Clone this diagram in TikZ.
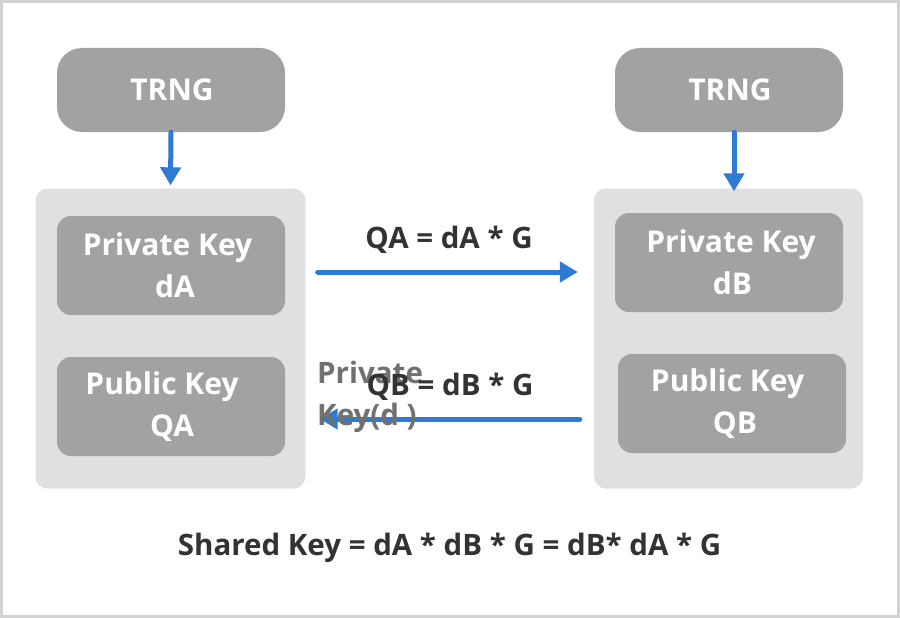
\documentclass[tikz,border=0pt]{standalone}
\usepackage{fontspec}
\setmainfont{Open Sans}
\usetikzlibrary{arrows.meta}
\definecolor{boxgray}{HTML}{A2A2A2}
\definecolor{contgray}{HTML}{E0E0E0}
\definecolor{arrblue}{HTML}{2F7AD3}
\definecolor{txtdark}{HTML}{333333}
\definecolor{txtgray}{HTML}{717171}
\definecolor{framegray}{HTML}{D2D2D2}
\tikzset{
  keybox/.style={fill=boxgray, rounded corners=14pt, minimum width=228pt, minimum height=99pt,
    text=white, align=center, inner sep=0pt, font=\fontsize{30}{42}\selectfont\bfseries},
  trngbox/.style={keybox, rounded corners=25pt, minimum height=84pt},
  container/.style={fill=contgray, rounded corners=12pt, minimum width=270pt, minimum height=300pt, inner sep=0pt},
  arr/.style={draw=arrblue, line width=5pt, line cap=round, -{Triangle[length=18pt,width=20pt]}},
  lbl/.style={text=txtdark, font=\fontsize{29.5}{42}\selectfont\bfseries, inner sep=0pt, anchor=base},
}
\begin{document}
\begin{tikzpicture}[x=1pt, y=-1pt]
\useasboundingbox (0,0) rectangle (900,618);
\draw[framegray, line width=3pt] (1.5,1.5) rectangle (898.5,616.5);
% containers
\node[container] (contA) at (170.5,338.5) {};
\node[container, minimum width=269pt] (contB) at (728.5,338.5) {};
% TRNG
\node[trngbox] (trngA) at (171,90) {\hspace*{2pt}TRNG};
\node[trngbox] (trngB) at (729,90) {\hspace*{2pt}TRNG};
% keys
\node[keybox] (privA) at (171,265.5) {Private Key\hspace*{7pt}\\\hspace*{8pt}dA};
\node[keybox] (pubA) at (171,406.5) {Public Key\hspace*{18pt}\\\hspace*{2pt}QA};
\node[keybox] (privB) at (729,262.5) {\hspace*{4pt}Private Key\\\hspace*{7pt}dB};
\node[keybox] (pubB) at (732,403.5) {Public Key\hspace*{9pt}\\\hspace*{6pt}QB};
% arrows from TRNG
\draw[arr] (trngA.south) -- ([yshift=3]contA.north);
\draw[arr] ([xshift=5]trngB.south) -- ([shift={(5.5,3)}]contB.north);
% exchange arrows
\draw[arr] ([shift={(12,-66.5)}]contA.east) -- ([shift={(-16,-66.5)}]contB.west);
\draw[arr] ([shift={(-14,80.5)}]contB.west) -- ([shift={(14,80.5)}]contA.east);
% labels
\node[lbl] (qa) at (449,248) {QA = dA * G};
\node[text=txtgray, font=\fontsize{29.5}{42}\selectfont\bfseries, inner sep=0pt, align=left, anchor=base west] (pk) at (317,425) {Private\\Key(d )};
\node[lbl] (qb) at (450,395) {QB = dB * G};
\node[lbl] (shared) at (449.5,555) {Shared Key = dA * dB * G = dB* dA * G};
\end{tikzpicture}
\end{document}
